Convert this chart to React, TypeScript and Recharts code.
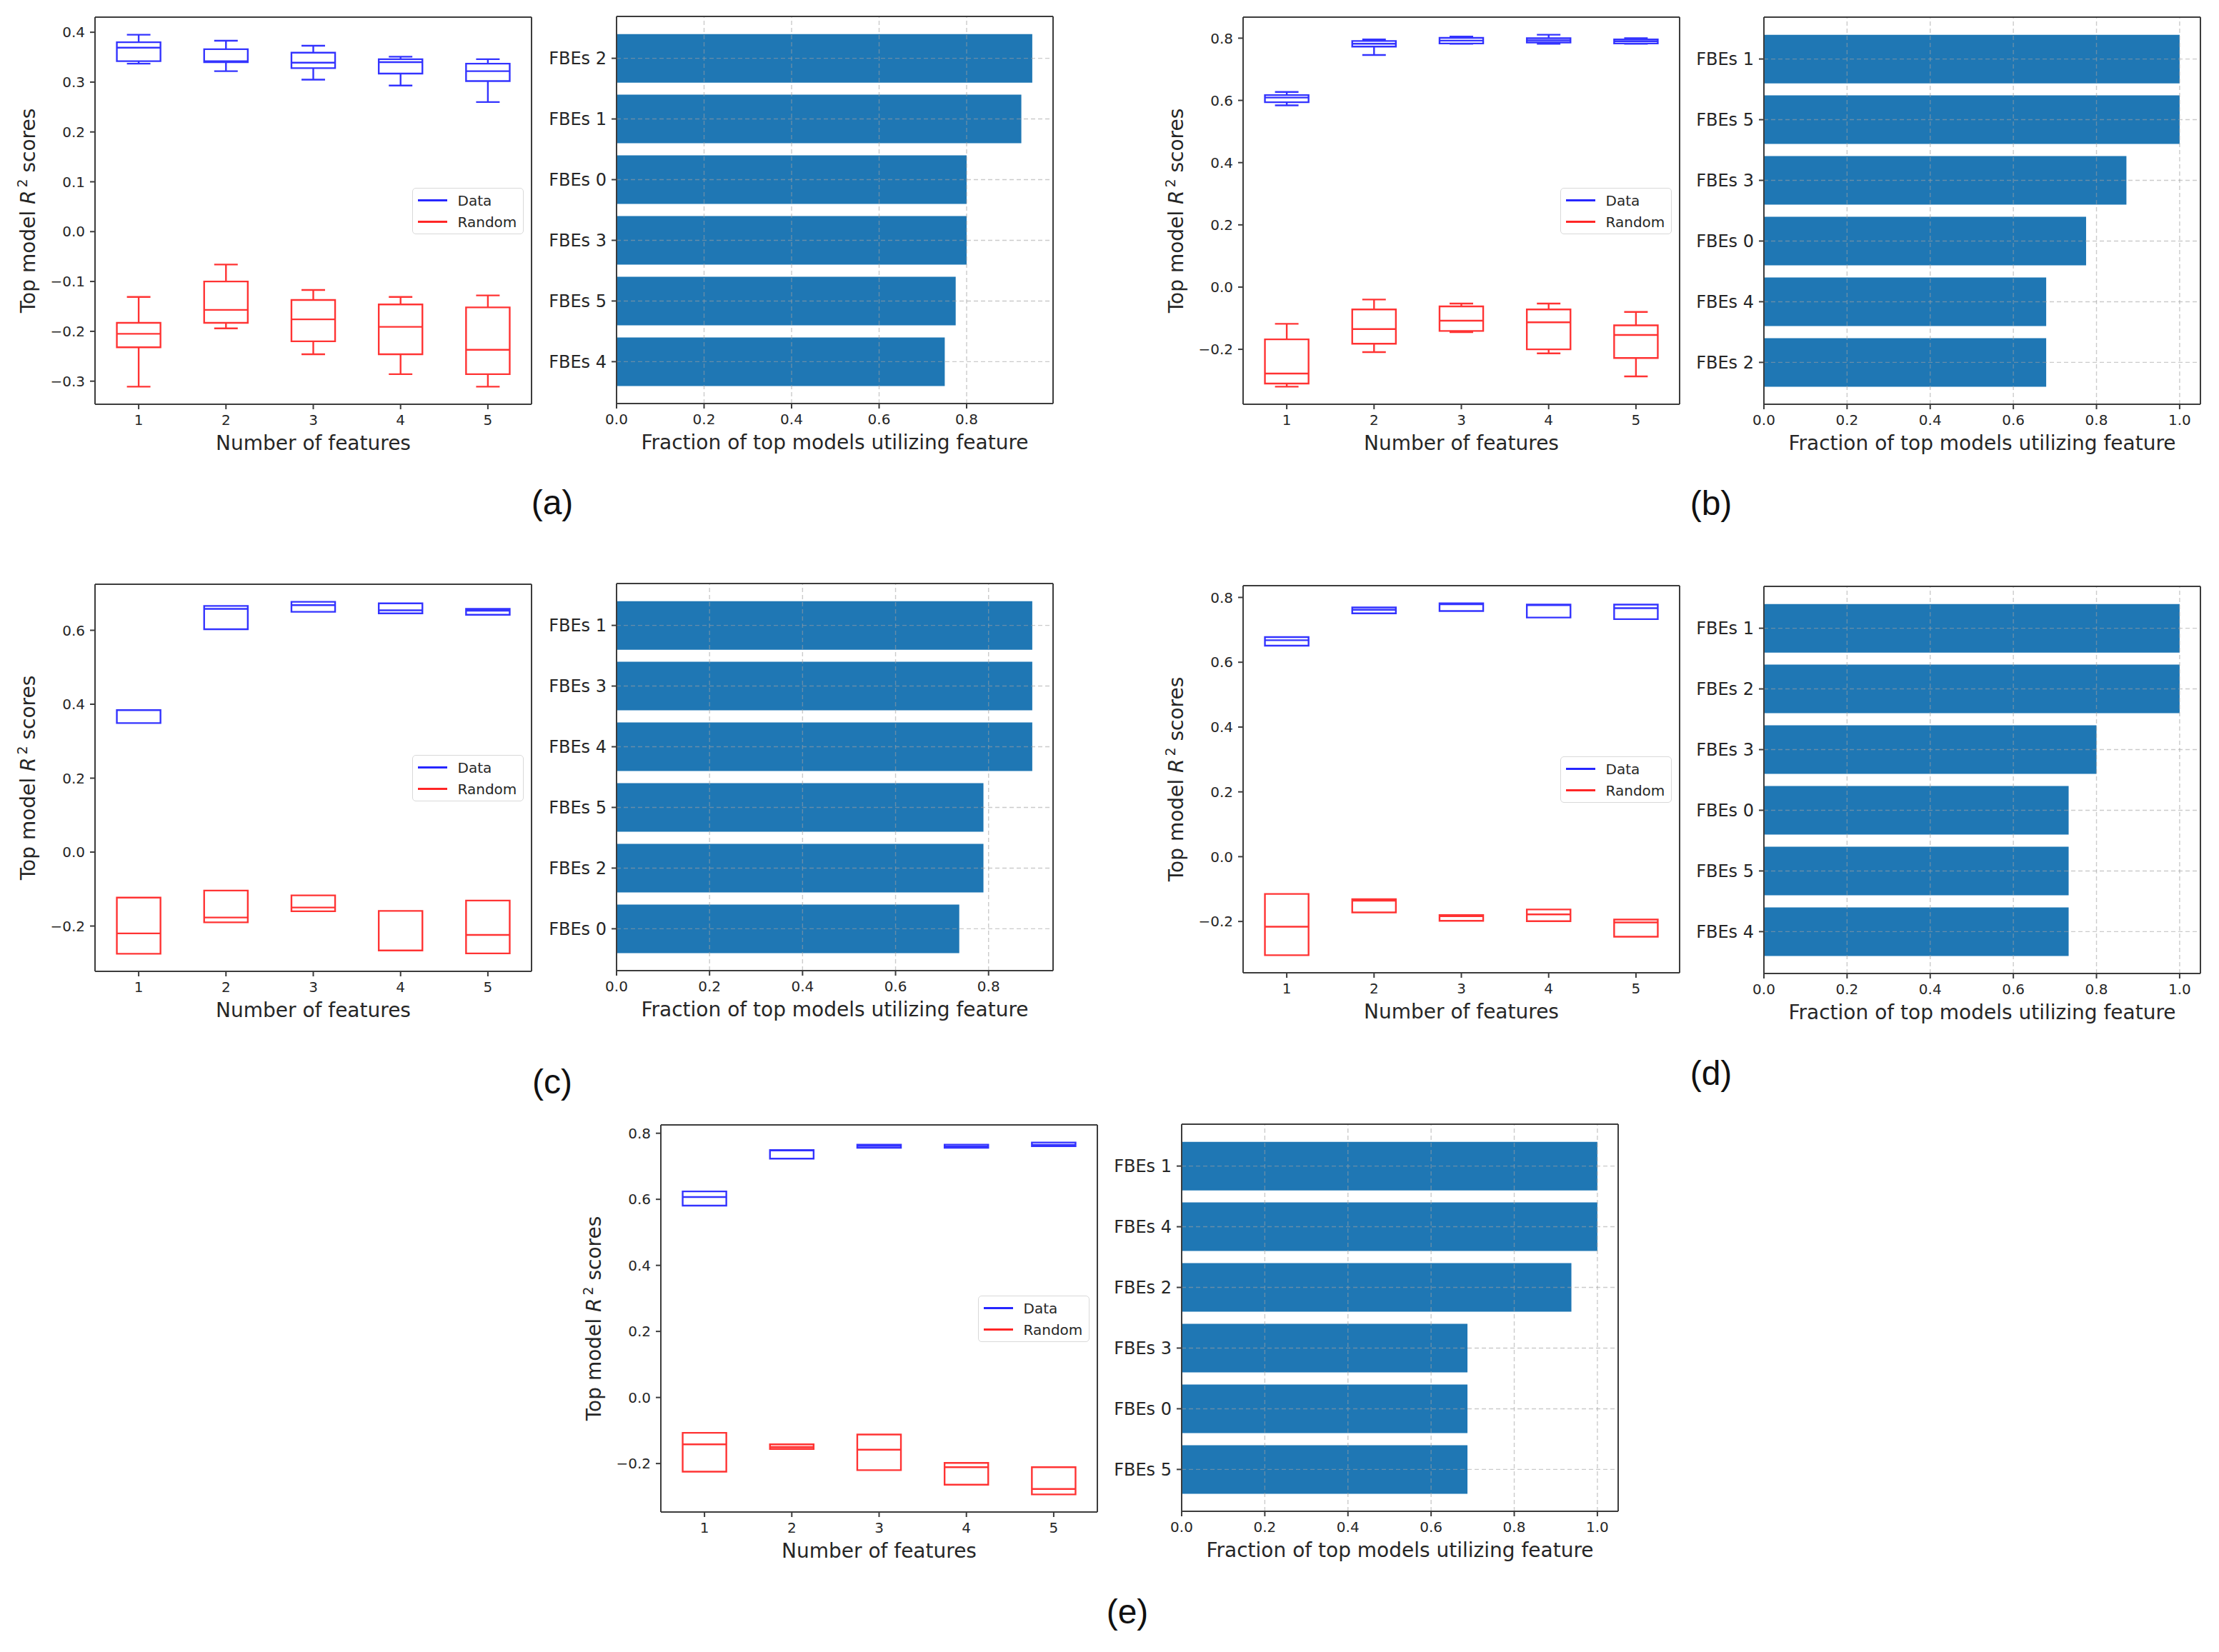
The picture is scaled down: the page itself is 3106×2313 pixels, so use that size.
import { Bar, BarChart, ComposedChart, Legend, Line, ReferenceLine, XAxis, YAxis } from 'recharts'

// number of features on the box plot x axis
const FEATURE_COUNTS = [1, 2, 3, 4, 5]

// box stats per feature count: [low whisker, q1, median, q3, high whisker]
const A_DATA = [
  [0.337, 0.342, 0.369, 0.38, 0.395],
  [0.322, 0.34, 0.342, 0.366, 0.383],
  [0.305, 0.328, 0.339, 0.359, 0.373],
  [0.293, 0.317, 0.34, 0.346, 0.351],
  [0.26, 0.302, 0.322, 0.337, 0.346],
]
const A_RANDOM = [
  [-0.311, -0.232, -0.205, -0.183, -0.131],
  [-0.194, -0.183, -0.157, -0.1, -0.066],
  [-0.246, -0.22, -0.176, -0.137, -0.117],
  [-0.286, -0.246, -0.191, -0.146, -0.131],
  [-0.311, -0.286, -0.237, -0.152, -0.128],
]
const B_DATA = [
  [0.584, 0.594, 0.609, 0.617, 0.627],
  [0.746, 0.773, 0.782, 0.791, 0.796],
  [0.782, 0.783, 0.792, 0.801, 0.805],
  [0.782, 0.786, 0.793, 0.8, 0.811],
  [0.782, 0.783, 0.79, 0.796, 0.8],
]
const B_RANDOM = [
  [-0.32, -0.31, -0.278, -0.168, -0.118],
  [-0.209, -0.182, -0.135, -0.072, -0.04],
  [-0.145, -0.141, -0.108, -0.062, -0.053],
  [-0.213, -0.2, -0.113, -0.072, -0.053],
  [-0.287, -0.228, -0.154, -0.123, -0.08],
]
const C_DATA = [
  [0.349, 0.349, 0.349, 0.384, 0.384],
  [0.603, 0.603, 0.658, 0.666, 0.666],
  [0.65, 0.65, 0.668, 0.677, 0.677],
  [0.646, 0.646, 0.654, 0.673, 0.673],
  [0.642, 0.642, 0.653, 0.658, 0.658],
]
const C_RANDOM = [
  [-0.275, -0.275, -0.22, -0.123, -0.123],
  [-0.19, -0.19, -0.177, -0.104, -0.104],
  [-0.16, -0.16, -0.15, -0.117, -0.117],
  [-0.266, -0.266, -0.266, -0.159, -0.159],
  [-0.274, -0.274, -0.224, -0.131, -0.131],
]
const D_DATA = [
  [0.651, 0.651, 0.668, 0.6775, 0.6775],
  [0.751, 0.751, 0.762, 0.769, 0.769],
  [0.758, 0.758, 0.779, 0.782, 0.782],
  [0.738, 0.738, 0.776, 0.778, 0.778],
  [0.733, 0.733, 0.767, 0.778, 0.778],
]
const D_RANDOM = [
  [-0.304, -0.304, -0.216, -0.115, -0.115],
  [-0.172, -0.172, -0.136, -0.131, -0.131],
  [-0.198, -0.198, -0.184, -0.18, -0.18],
  [-0.199, -0.199, -0.178, -0.163, -0.163],
  [-0.247, -0.247, -0.203, -0.194, -0.194],
]
const E_DATA = [
  [0.581, 0.581, 0.607, 0.624, 0.624],
  [0.723, 0.723, 0.748, 0.749, 0.749],
  [0.756, 0.756, 0.762, 0.7655, 0.7655],
  [0.756, 0.756, 0.76, 0.7655, 0.7655],
  [0.761, 0.761, 0.7646, 0.772, 0.772],
]
const E_RANDOM = [
  [-0.2245, -0.2245, -0.142, -0.107, -0.107],
  [-0.156, -0.156, -0.15, -0.142, -0.142],
  [-0.22, -0.22, -0.158, -0.112, -0.112],
  [-0.264, -0.264, -0.211, -0.198, -0.198],
  [-0.2935, -0.2935, -0.277, -0.211, -0.211],
]

const A_SCORE_TICKS = [-0.3, -0.2, -0.1, 0, 0.1, 0.2, 0.3, 0.4]
const B_SCORE_TICKS = [-0.2, 0, 0.2, 0.4, 0.6, 0.8]
const C_SCORE_TICKS = [-0.2, 0, 0.2, 0.4, 0.6]
const D_SCORE_TICKS = [-0.2, 0, 0.2, 0.4, 0.6, 0.8]
const E_SCORE_TICKS = [-0.2, 0, 0.2, 0.4, 0.6, 0.8]

// feature usage bars, top to bottom
const A_FEATURES = ['FBEs 2', 'FBEs 1', 'FBEs 0', 'FBEs 3', 'FBEs 5', 'FBEs 4']
const A_FRACTIONS = [0.95, 0.925, 0.8, 0.8, 0.775, 0.75]
const B_FEATURES = ['FBEs 1', 'FBEs 5', 'FBEs 3', 'FBEs 0', 'FBEs 4', 'FBEs 2']
const B_FRACTIONS = [1.0, 1.0, 0.872, 0.775, 0.679, 0.679]
const C_FEATURES = ['FBEs 1', 'FBEs 3', 'FBEs 4', 'FBEs 5', 'FBEs 2', 'FBEs 0']
const C_FRACTIONS = [0.894, 0.894, 0.894, 0.789, 0.789, 0.737]
const D_FEATURES = ['FBEs 1', 'FBEs 2', 'FBEs 3', 'FBEs 0', 'FBEs 5', 'FBEs 4']
const D_FRACTIONS = [1.0, 1.0, 0.8, 0.733, 0.733, 0.733]
const E_FEATURES = ['FBEs 1', 'FBEs 4', 'FBEs 2', 'FBEs 3', 'FBEs 0', 'FBEs 5']
const E_FRACTIONS = [1.0, 1.0, 0.9375, 0.6875, 0.6875, 0.6875]

const FRACTION_TICKS = [0, 0.2, 0.4, 0.6, 0.8, 1.0]

const FRAME_W = 611
const FRAME_H = 542
const PAD_L = 130
const PAD_T = 10
const PAD_R = 10
const PAD_B = 90
const BOX_HALF = 0.25
const CAP_HALF = 0.125

const FONT = '"DejaVu Sans", sans-serif'
const INK = '#262626'
const SPINE = '#3c3c3c'
const GRID = '#a0a0a0'

const fmt = (v: number) => v.toFixed(1).replace('-', '\u2212')

type Pt = { x: number; y: number | null }

// one polyline per group, broken with nulls between the pieces of each box
function boxOutline(stats: number[][]): Pt[] {
  const pts: Pt[] = []
  const seg = (...p: [number, number][]) => {
    p.forEach(([x, y]) => pts.push({ x, y }))
    pts.push({ x: p[p.length - 1][0], y: null })
  }
  FEATURE_COUNTS.forEach((f, i) => {
    const [lo, q1, med, q3, hi] = stats[i]
    seg([f - BOX_HALF, q1], [f + BOX_HALF, q1], [f + BOX_HALF, q3], [f - BOX_HALF, q3], [f - BOX_HALF, q1])
    seg([f - BOX_HALF, med], [f + BOX_HALF, med])
    seg([f, q1], [f, lo])
    seg([f, q3], [f, hi])
    seg([f - CAP_HALF, lo], [f + CAP_HALF, lo])
    seg([f - CAP_HALF, hi], [f + CAP_HALF, hi])
  })
  return pts
}

const noBox = { x: 0, y: 0, width: 0, height: 0 }

const axisTitle = (text: string) => (props: any) => {
  const vb = props.viewBox ?? noBox
  return (
    <text x={vb.x + vb.width / 2} y={vb.y + 64} textAnchor="middle" fontSize={28} fontFamily={FONT} fill={INK}>
      {text}
    </text>
  )
}

const scoreTitle = (props: any) => {
  const vb = props.viewBox ?? noBox
  const cx = vb.x + vb.width - 94
  const cy = vb.y + vb.height / 2
  return (
    <text
      transform={`rotate(-90 ${cx} ${cy})`}
      x={cx}
      y={cy}
      dy="0.36em"
      textAnchor="middle"
      fontSize={28}
      fontFamily={FONT}
      fill={INK}
    >
      {'Top model '}
      <tspan fontStyle="italic">R</tspan>
      <tspan dx={4} dy={-11} fontSize={19}>
        2
      </tspan>
      <tspan dy={11}>{' scores'}</tspan>
    </text>
  )
}

function BoxLegend({ payload }: any) {
  return (
    <div
      style={{
        width: 156,
        height: 65,
        boxSizing: 'border-box',
        border: '1.5px solid #d9d9d9',
        borderRadius: 5,
        background: 'rgba(255,255,255,0.85)',
        paddingTop: 2,
        fontFamily: FONT,
        fontSize: 20,
        color: INK,
      }}
    >
      {(payload ?? []).map((p: any) => (
        <div key={p.value} style={{ display: 'flex', alignItems: 'center', height: 30 }}>
          <span style={{ display: 'inline-block', width: 41, height: 2.5, background: p.color, marginLeft: 6.5, marginRight: 15, opacity: 0.85 }} />
          <span>{p.value}</span>
        </div>
      ))}
    </div>
  )
}

// the spine axes on top and right need a size of 1, a zero-size axis is not drawn
const chartMargin = { top: PAD_T - 1, right: PAD_R - 1, bottom: 0, left: 0 }

type BoxProps = { left: number; top: number; data: number[][]; random: number[][]; ticks: number[] }

function BoxPanel({ left, top, data, random, ticks }: BoxProps) {
  const all = [...data, ...random].flat()
  const lo = Math.min(...all)
  const hi = Math.max(...all)
  const m = (hi - lo) * 0.05
  const domain: [number, number] = [lo - m, hi + m]
  const tickStyle = { fontSize: 20, fill: INK, fontFamily: FONT }
  return (
    <div style={{ position: 'absolute', left: left - PAD_L, top: top - PAD_T }}>
      <ComposedChart width={PAD_L + FRAME_W + PAD_R} height={PAD_T + FRAME_H + PAD_B} margin={chartMargin}>
        <XAxis
          type="number"
          dataKey="x"
          domain={[0.5, 5.5]}
          ticks={FEATURE_COUNTS}
          allowDataOverflow
          height={PAD_B}
          tickSize={7}
          tickMargin={8}
          tick={tickStyle}
          stroke={SPINE}
          strokeWidth={2}
          label={axisTitle('Number of features')}
        />
        <XAxis
          xAxisId="top"
          orientation="top"
          type="number"
          domain={[0.5, 5.5]}
          allowDataOverflow
          height={1}
          tick={false}
          tickLine={false}
          stroke={SPINE}
          strokeWidth={2}
        />
        <YAxis
          type="number"
          domain={domain}
          ticks={ticks}
          allowDataOverflow
          width={PAD_L}
          tickSize={7}
          tickMargin={7}
          tick={tickStyle}
          tickFormatter={fmt}
          stroke={SPINE}
          strokeWidth={2}
          label={scoreTitle}
        />
        <YAxis
          yAxisId="right"
          orientation="right"
          type="number"
          domain={domain}
          allowDataOverflow
          width={1}
          tick={false}
          tickLine={false}
          stroke={SPINE}
          strokeWidth={2}
        />
        <Line
          data={boxOutline(data)}
          dataKey="y"
          name="Data"
          type="linear"
          stroke="#0000ff"
          strokeOpacity={0.8}
          strokeWidth={2.4}
          strokeLinejoin="miter"
          strokeLinecap="square"
          dot={false}
          activeDot={false}
          connectNulls={false}
          isAnimationActive={false}
        />
        <Line
          data={boxOutline(random)}
          dataKey="y"
          name="Random"
          type="linear"
          stroke="#ff0000"
          strokeOpacity={0.8}
          strokeWidth={2.4}
          strokeLinejoin="miter"
          strokeLinecap="square"
          dot={false}
          activeDot={false}
          connectNulls={false}
          isAnimationActive={false}
        />
        <Legend
          layout="vertical"
          align="center"
          verticalAlign="middle"
          wrapperStyle={{ left: PAD_L + FRAME_W - 167, top: PAD_T + FRAME_H / 2 - 32.5, width: 'auto' }}
          content={(props: any) => <BoxLegend {...props} />}
        />
      </ComposedChart>
    </div>
  )
}

type BarProps = { left: number; top: number; names: string[]; values: number[] }

function BarPanel({ left, top, names, values }: BarProps) {
  const rows = names.map((name, i) => ({ name, value: values[i] }))
  const xMax = Math.max(...values) * 1.05
  const ticks = FRACTION_TICKS.filter((t) => t <= xMax + 1e-9)
  // matplotlib barh: bars of height 0.8 with 5% margins around them
  const span = (names.length - 0.2) * 1.1
  const pad = ((span - names.length) / 2) * (FRAME_H / span)
  const gridProps = { stroke: GRID, strokeOpacity: 0.55, strokeWidth: 1.4, strokeDasharray: '6 4' }
  return (
    <div style={{ position: 'absolute', left: left - PAD_L, top: top - PAD_T }}>
      <BarChart
        layout="vertical"
        data={rows}
        width={PAD_L + FRAME_W + PAD_R}
        height={PAD_T + FRAME_H + PAD_B}
        margin={chartMargin}
        barCategoryGap="10%"
      >
        <XAxis
          type="number"
          domain={[0, xMax]}
          ticks={ticks}
          allowDataOverflow
          height={PAD_B}
          tickSize={7}
          tickMargin={8}
          tick={{ fontSize: 20, fill: INK, fontFamily: FONT }}
          tickFormatter={(v: number) => v.toFixed(1)}
          stroke={SPINE}
          strokeWidth={2}
          label={axisTitle('Fraction of top models utilizing feature')}
        />
        <XAxis
          xAxisId="top"
          orientation="top"
          type="number"
          domain={[0, xMax]}
          allowDataOverflow
          height={1}
          tick={false}
          tickLine={false}
          stroke={SPINE}
          strokeWidth={2}
        />
        <YAxis
          type="category"
          dataKey="name"
          width={PAD_L}
          padding={{ top: pad, bottom: pad }}
          interval={0}
          tickSize={7}
          tickMargin={7}
          tick={{ fontSize: 24, fill: INK, fontFamily: FONT }}
          stroke={SPINE}
          strokeWidth={2}
        />
        <YAxis
          yAxisId="right"
          orientation="right"
          type="category"
          dataKey="name"
          width={1}
          tick={false}
          tickLine={false}
          stroke={SPINE}
          strokeWidth={2}
        />
        <Bar dataKey="value" fill="#1f77b4" isAnimationActive={false} />
        {ticks.map((t) => (
          <ReferenceLine key={`x${t}`} x={t} {...gridProps} />
        ))}
        {names.map((n) => (
          <ReferenceLine key={`y${n}`} y={n} {...gridProps} />
        ))}
      </BarChart>
    </div>
  )
}

const CAPTIONS = ['(a)', '(b)', '(c)', '(d)', '(e)']
const CAPTION_SPOTS = [
  [773, 704],
  [2395, 705],
  [773, 1515],
  [2395, 1503],
  [1578, 2257],
]

export default function App() {
  return (
    <div style={{ position: 'absolute', left: 0, top: 0, width: 3106, height: 2313, background: '#fff', overflow: 'hidden' }}>
      <BoxPanel left={133} top={24} data={A_DATA} random={A_RANDOM} ticks={A_SCORE_TICKS} />
      <BarPanel left={863} top={23} names={A_FEATURES} values={A_FRACTIONS} />
      <BoxPanel left={1740} top={24} data={B_DATA} random={B_RANDOM} ticks={B_SCORE_TICKS} />
      <BarPanel left={2469} top={24} names={B_FEATURES} values={B_FRACTIONS} />
      <BoxPanel left={133} top={818} data={C_DATA} random={C_RANDOM} ticks={C_SCORE_TICKS} />
      <BarPanel left={863} top={817} names={C_FEATURES} values={C_FRACTIONS} />
      <BoxPanel left={1740} top={820} data={D_DATA} random={D_RANDOM} ticks={D_SCORE_TICKS} />
      <BarPanel left={2469} top={821} names={D_FEATURES} values={D_FRACTIONS} />
      <BoxPanel left={925} top={1575} data={E_DATA} random={E_RANDOM} ticks={E_SCORE_TICKS} />
      <BarPanel left={1654} top={1574} names={E_FEATURES} values={E_FRACTIONS} />
      {CAPTIONS.map((c, i) => (
        <div
          key={c}
          style={{
            position: 'absolute',
            left: CAPTION_SPOTS[i][0],
            top: CAPTION_SPOTS[i][1],
            transform: 'translate(-50%, -50%)',
            fontFamily: '"Liberation Sans", Arial, sans-serif',
            fontSize: 48,
            lineHeight: 1,
            color: '#111',
          }}
        >
          {c}
        </div>
      ))}
    </div>
  )
}
